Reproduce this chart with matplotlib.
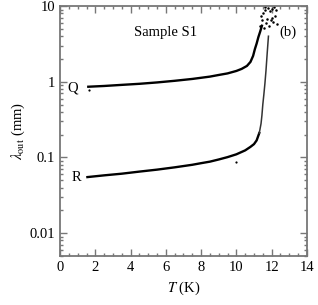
import numpy as np
import matplotlib
matplotlib.use("Agg")
import matplotlib.pyplot as plt
from matplotlib.ticker import MultipleLocator, LogLocator, NullFormatter, FixedFormatter, FixedLocator

plt.rcParams['font.family'] = ['Liberation Serif', 'DejaVu Serif']
plt.rcParams['mathtext.fontset'] = 'stix'

# #############################################################################
# Data
q_T = [1.6, 2.5, 3.5, 4.5, 5.5, 6.5, 7.5, 8.5, 9.0, 9.5, 10.0, 10.3, 10.6, 10.8,
       10.95, 11.05, 11.15, 11.25, 11.35, 11.45]
q_lam = [0.86, 0.88, 0.91, 0.94, 0.98, 1.03, 1.09, 1.17, 1.23, 1.29, 1.39, 1.48,
         1.62, 1.83, 2.2, 2.7, 3.2, 3.9, 4.6, 5.5]

r_T = [1.55, 2.5, 3.5, 4.5, 5.5, 6.5, 7.5, 8.0, 8.5, 9.0, 9.5, 10.0, 10.5, 10.8,
       11.0, 11.15, 11.3]
r_lam = [0.055, 0.058, 0.061, 0.065, 0.069, 0.074, 0.080, 0.084, 0.088, 0.094,
         0.101, 0.110, 0.124, 0.138, 0.150, 0.168, 0.21]

# steep part of R (sparser dots)
rs_T = [11.3, 11.4, 11.45, 11.5, 11.56, 11.62, 11.68, 11.75, 11.82]
rs_lam = [0.21, 0.28, 0.36, 0.50, 0.68, 0.95, 1.4, 2.4, 4.0]

# scattered points near the transition
sc_T = [11.35, 11.45, 11.5, 11.6, 11.4, 11.7, 11.55, 11.8, 11.9, 12.0, 12.1,
        12.2, 11.85, 12.05, 11.95, 12.25, 12.3, 11.75, 11.65, 12.15]
sc_lam = [5.5, 6.5, 8.0, 9.0, 7.5, 6.0, 5.2, 9.5, 8.5, 7.0, 6.2, 7.5, 5.5,
          9.2, 6.5, 8.8, 5.8, 6.8, 9.6, 9.8]

# stray points
st_T = [1.65, 10.0]
st_lam = [0.78, 0.088]

# #############################################################################
# Plot
fig = plt.figure(figsize=(3.18, 3.05), dpi=100)
ax = fig.add_axes([0.189, 0.161, 0.776, 0.819])

ax.plot(q_T, q_lam, '-', color='black', lw=1.7)
ax.plot(r_T, r_lam, '-', color='black', lw=1.7)
ax.plot(rs_T, rs_lam, '-', color='#333333', lw=1.1)
ax.plot(sc_T, sc_lam, 'o', color='black', ms=1.8, mew=0)
ax.plot(st_T, st_lam, 'o', color='black', ms=1.6, mew=0)

ax.set_yscale('log')
ax.set_xlim(0, 14)
ax.set_ylim(0.005, 10)

ax.xaxis.set_major_locator(MultipleLocator(2))
ax.xaxis.set_minor_locator(MultipleLocator(0.5))
ax.yaxis.set_major_locator(FixedLocator([0.01, 0.1, 1, 10]))
ax.yaxis.set_major_formatter(FixedFormatter(['0.01', '0.1', '1', '10']))
ax.yaxis.set_minor_locator(LogLocator(base=10, subs=np.arange(2, 10)))
ax.yaxis.set_minor_formatter(NullFormatter())

ax.tick_params(which='both', direction='in', top=True, right=True,
               color='#777777', labelsize=10.5)
ax.tick_params(which='major', length=5, width=1)
ax.tick_params(which='minor', length=2.5, width=1)
for s in ax.spines.values():
    s.set_color('#777777')
    s.set_linewidth(1.3)

ax.set_xlabel(r'$T$ (K)', fontsize=10.5, labelpad=4)
ax.set_ylabel(r'$\lambda_{\rm out}$ (mm)', fontsize=10.5, labelpad=2)

ax.text(6.0, 4.5, 'Sample S1', fontsize=10.5, ha='center', va='center')
ax.text(12.9, 4.5, '(b)', fontsize=10.5, ha='center', va='center')
ax.text(0.7, 0.84, 'Q', fontsize=10.5, ha='center', va='center')
ax.text(0.9, 0.054, 'R', fontsize=10.5, ha='center', va='center')

fig.savefig('out.png', dpi=100)
